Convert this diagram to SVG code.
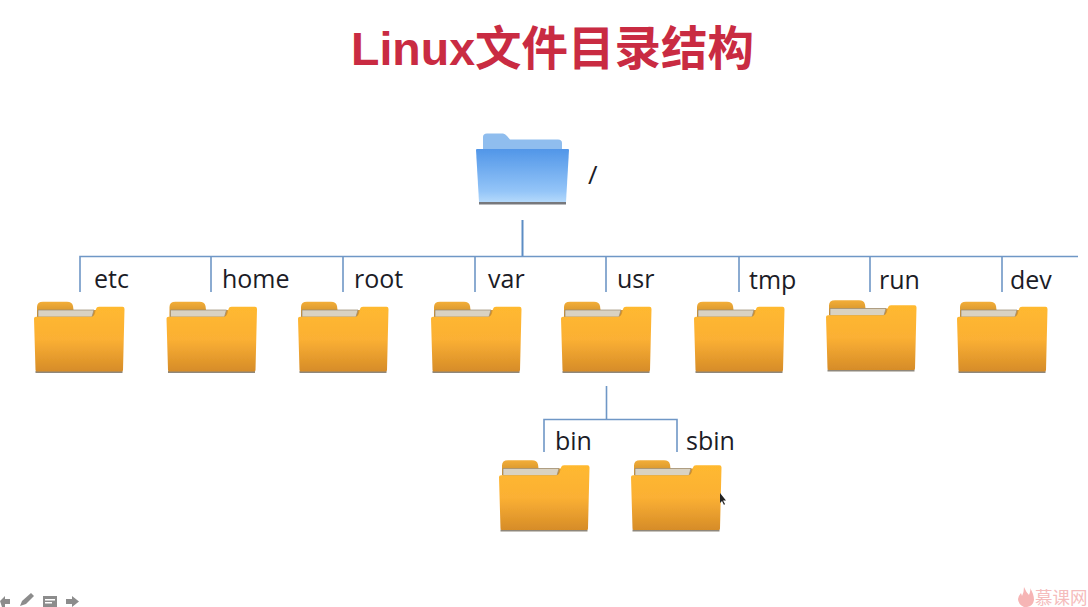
<svg xmlns="http://www.w3.org/2000/svg" width="1088" height="607" viewBox="0 0 1088 607">
<style>
.t{font-family:"Liberation Sans","Noto Sans CJK SC",sans-serif;font-weight:700;font-size:46.500px;fill:#c92b42}
.l{font-family:"Open Sans","Noto Sans",sans-serif;font-size:25px;fill:#1c1c26}
.c{fill:none;stroke:#6f97c6;stroke-width:1.6}
.c2{fill:none;stroke:#5c8dc4;stroke-width:2}
.soft{filter:url(#soft)}
</style>
<defs>
<linearGradient id="o" x1="0" y1="0" x2="0" y2="1"><stop offset="0" stop-color="#ffb92f"/><stop offset=".5" stop-color="#fbb034"/><stop offset="1" stop-color="#d68c28"/></linearGradient>
<linearGradient id="ob" x1="0" y1="0" x2="0" y2="1"><stop offset="0" stop-color="#f3ae38"/><stop offset="1" stop-color="#c98a2a"/></linearGradient>
<linearGradient id="b" x1="0" y1="0" x2="0" y2="1"><stop offset="0" stop-color="#5196e8"/><stop offset=".8" stop-color="#94c5f8"/><stop offset="1" stop-color="#b4d9fb"/></linearGradient>
<filter id="s" x="-10%" y="-50%" width="120%" height="200%"><feGaussianBlur stdDeviation=".6"/></filter>
<filter id="soft" x="-5%" y="-5%" width="110%" height="110%"><feGaussianBlur stdDeviation=".45"/></filter>
<symbol id="f" width="93" height="74" overflow="visible">
<g class="soft">
<rect x="1.500" y="70" width="87" height="2" fill="#8f877a"/>
<path d="M3 16V6Q3 .8 9 .8H33Q38 .8 39 5L39.500 9H62V16Z" fill="url(#ob)"/>
<path d="M4 9H60L58 16H4Z" fill="#d9d2c2" stroke="#9a8a70" stroke-width=".7"/>
<path d="M0 17.500Q0 15.700 2 15.700H57Q60 15.700 61 12L62 8Q62.500 5.700 65 5.700H88.500Q90.500 5.700 90.500 8L89 69Q89 70.500 87.500 70.500H3Q1.500 70.500 1.500 69Z" fill="url(#o)"/>
</g>
</symbol>
</defs>
<rect width="1088" height="607" fill="#fff"/>
<text class="t" x="351" y="65">Linux文件目录结构</text>
<g id="connectors">
<path class="c2" d="M522.500 220V256"/>
<path class="c" d="M80 292V256.500H1078M211 256.500V292M343 256.500V292M475 256.500V292M606 256.500V292M739 256.500V292M870 256.500V292M1002 256.500V292"/>
<path class="c" d="M606.500 386V419M544 452V419.500H677V452"/>
</g>
<g id="node-root">
<g class="soft">
<path d="M483 150V137Q483 133.500 487 133.500H503Q505 133.500 507 136L510 139.500H558Q562 139.500 562 143V150Z" fill="#8fbdee"/>
<path d="M476 150Q476 149 477 149H568Q569 149 569 150L566 202H479Z" fill="url(#b)"/>
<rect x="479" y="202" width="87" height="2.500" fill="#77787c"/>
</g>
<text class="l" x="588" y="184" style="font-size:26px">/</text>
</g>
<g id="node-etc"><use href="#f" x="34" y="301"/><text class="l" x="94" y="288">etc</text></g>
<g id="node-home"><use href="#f" x="166.500" y="301"/><text class="l" x="222" y="288">home</text></g>
<g id="node-root-dir"><use href="#f" x="298" y="301"/><text class="l" x="354" y="288">root</text></g>
<g id="node-var"><use href="#f" x="431" y="301"/><text class="l" x="488" y="288">var</text></g>
<g id="node-usr"><use href="#f" x="561" y="301"/><text class="l" x="617" y="288">usr</text></g>
<g id="node-tmp"><use href="#f" x="694" y="301"/><text class="l" x="749" y="289">tmp</text></g>
<g id="node-run"><use href="#f" x="826" y="299.500"/><text class="l" x="879" y="289">run</text></g>
<g id="node-dev"><use href="#f" x="957" y="301"/><text class="l" x="1010" y="289">dev</text></g>
<g id="node-bin"><use href="#f" x="499" y="459.500"/><text class="l" x="555" y="450">bin</text></g>
<g id="node-sbin"><use href="#f" x="631" y="459.500"/><text class="l" x="686" y="450">sbin</text></g>
<path id="cursor" d="M720 493V503L722 501L724 505L725 504L723 500.500H726Z" fill="#222"/>
<g id="toolbar" fill="#8c8c8c">
<path d="M0 601L5 596V599H10V604H5V607H2Z"/>
<path d="M20 606L22 601L31 593L34 596L26 604Z"/>
<rect x="43" y="596" width="14" height="11"/>
<path d="M66 599H72V596L79 601.500L72 607V604H66Z"/>
</g>
<rect x="45" y="599" width="10" height="1.500" fill="#fff"/>
<rect x="45" y="602" width="7" height="1.500" fill="#fff"/>
<g id="watermark">
<path d="M1024 587Q1026 592 1029 595Q1031 590 1030 588Q1034 594 1034 600Q1033 606 1027 607H1024Q1018 604 1018 599Q1019 595 1021 593L1022 596Q1024 592 1024 587Z" fill="#f6b5b5"/>
<text x="1035" y="604" style="font-family:'Noto Sans CJK SC',sans-serif;font-size:17.500px;fill:#f5bcbc">慕课网</text>
</g>
</svg>
